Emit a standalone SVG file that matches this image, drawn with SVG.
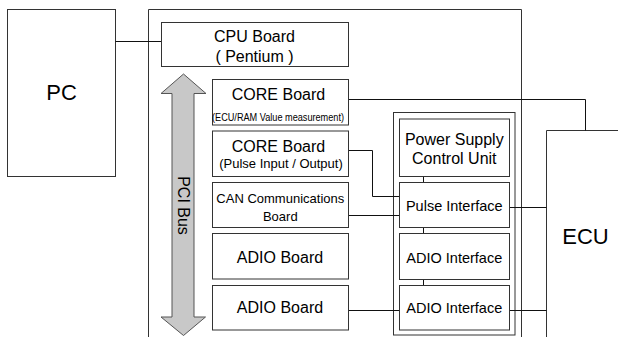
<svg xmlns="http://www.w3.org/2000/svg" width="618" height="337" viewBox="0 0 618 337">
<style>
.box{fill:#fff;stroke:#333;stroke-width:1}
.frame{fill:none;stroke:#333;stroke-width:1}
.ln{fill:none;stroke:#111;stroke-width:1}
text{font-family:"Liberation Sans",Arial,sans-serif;fill:#000;text-anchor:middle}
.t16{font-size:16px}
.t14{font-size:14.5px}
.t13{font-size:13px}
.t11{font-size:11px}
.big{font-size:22px}
</style>
<rect width="618" height="337" fill="#fff"/>
<g id="pc"><rect class="box" x="7.5" y="9.5" width="108" height="167"/><text class="big" x="61.5" y="99.5">PC</text></g>
<g id="container"><path class="frame" d="M148.5,337 V9.5 H521.5 V337"/></g>
<g id="ecu"><path class="frame" d="M546.5,337 V130.5 H620"/><text class="big" x="585.5" y="243.5">ECU</text></g>
<g id="interface-frame"><rect class="frame" x="393.5" y="112.5" width="121.5" height="222.5"/></g>
<g id="connectors">
<path class="ln" d="M115.5,41.5 H161.5"/>
<path class="ln" d="M348.5,99.5 H585.5 V130.5"/>
<path class="ln" d="M348.5,150.5 H372.5 V196.5 H399.5"/>
<path class="ln" d="M348.5,215.5 H399.5"/>
<path class="ln" d="M348.5,310.5 H399.5"/>
<path class="ln" d="M509.5,207.5 H546.5"/>
<path class="ln" d="M509.5,310.5 H546.5"/>
<path class="ln" d="M423.5,176.5 V182.5 M423.5,227.5 V233.5 M423.5,279.5 V285.5"/>
</g>
<g id="pci-bus">
<path d="M183.5,74 L206,93.5 L194,93.5 L194,317 L205.5,317 L183.5,335.5 L161,317 L172,317 L172,93.5 L161,93.5 Z" fill="#c8c8c8" stroke="#555" stroke-width="1"/>
<text class="t16" transform="translate(177.5,205.5) rotate(90)">PCI Bus</text>
</g>
<g id="cpu-board"><rect class="box" x="161.5" y="22.5" width="187" height="44"/><text class="t16" x="254.5" y="41.5">CPU Board</text><text class="t16" x="254.5" y="61.5">( Pentium )</text></g>
<g id="core-board-1"><rect class="box" x="212.5" y="79.5" width="136" height="45.5"/><text class="t16" x="278.5" y="99.5">CORE Board</text><text class="t11" x="278" y="120.5" textLength="132" lengthAdjust="spacingAndGlyphs">(ECU/RAM Value measurement)</text></g>
<g id="core-board-2"><rect class="box" x="212.5" y="131" width="136" height="45.5"/><text class="t16" x="278.5" y="151.5">CORE Board</text><text class="t13" x="281" y="167.5">(Pulse Input / Output)</text></g>
<g id="can-board"><rect class="box" x="212.5" y="182.5" width="136" height="45"/><text class="t13" x="280.3" y="203.3">CAN Communications</text><text class="t13" x="280.3" y="220.7">Board</text></g>
<g id="adio-board-1"><rect class="box" x="212.5" y="233.5" width="136" height="45.5"/><text class="t16" x="280" y="263.3">ADIO Board</text></g>
<g id="adio-board-2"><rect class="box" x="212.5" y="285.5" width="136" height="44.5"/><text class="t16" x="280" y="313.3">ADIO Board</text></g>
<g id="power-supply"><rect class="box" x="399.5" y="119" width="110" height="57.5"/><text class="t16" x="454.3" y="145">Power Supply</text><text class="t16" x="454.3" y="164.3">Control Unit</text></g>
<g id="pulse-interface"><rect class="box" x="399.5" y="182.5" width="110" height="45"/><text class="t14" x="454.3" y="211">Pulse Interface</text></g>
<g id="adio-interface-1"><rect class="box" x="399.5" y="233.5" width="110" height="46"/><text class="t14" x="454.3" y="262.7">ADIO Interface</text></g>
<g id="adio-interface-2"><rect class="box" x="399.5" y="285.5" width="110" height="44.5"/><text class="t14" x="454.3" y="313.3">ADIO Interface</text></g>
</svg>
